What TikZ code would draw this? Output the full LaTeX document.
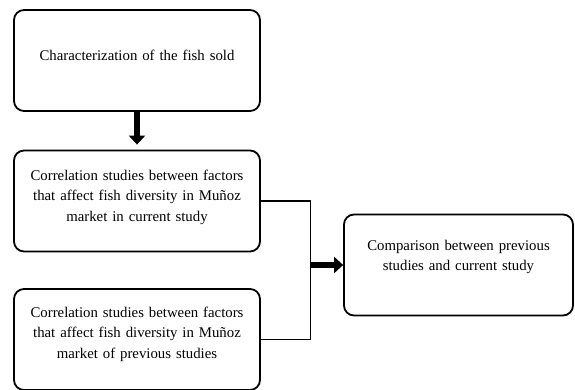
\documentclass[tikz,border=0pt]{standalone}
\usepackage{fontspec}
\setmainfont{Liberation Serif}
\usetikzlibrary{arrows.meta}

\tikzset{
    stagebox/.style={draw, line width=1.8pt, rounded corners=10pt, align=center,
        text width=236pt, minimum width=246pt, minimum height=101pt, inner sep=0pt,
        font=\fontsize{14.8}{20.5}\selectfont},
    fatarrow/.style={line width=6pt, -{Triangle[width=16pt,length=9pt]}},
    joinline/.style={line width=1.3pt}
}
\newcommand{\liftup}[1]{\par\vspace{#1}\hrule height 0pt width 0pt}

\begin{document}
\begin{tikzpicture}[x=1pt,y=-1pt]
    \useasboundingbox (0,0) rectangle (575,390);

    % Boxes
    \node [stagebox] (charact) at (137,60.5) {Characterization of the fish sold\liftup{11pt}};
    \node [stagebox] (corrnow) at (137,201) {Correlation studies between factors\\ that affect fish diversity in Mu\~noz\\ market in current study\liftup{8pt}};
    \node [stagebox] (corrold) at (137,339.5) {Correlation studies between factors\\ that affect fish diversity in Mu\~noz\\ market of previous studies\liftup{11pt}};
    \node [stagebox, minimum width=229pt, text width=220pt] (compare) at (458.5,265) {Comparison between previous\\ studies and current study\liftup{16pt}};

    % Arrows and joining line
    \coordinate (joinx) at (310.5,0);
    \draw [fatarrow, shorten >=5pt] (charact.south) -- (corrnow.north);
    \draw [joinline] (corrnow.east) -- (corrnow.east -| joinx) -- (corrold.east -| joinx) -- (corrold.east);
    \draw [fatarrow] (compare.west -| joinx) -- (compare.west);

\end{tikzpicture}
\end{document}
